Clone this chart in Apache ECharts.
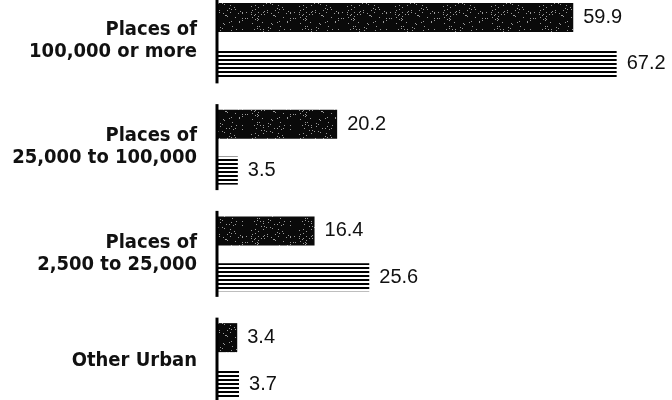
<!DOCTYPE html>
<html>
<head>
<meta charset="utf-8">
<script src="https://cdn.jsdelivr.net/npm/echarts@6/dist/echarts.min.js"></script>
<style>
  html, body { margin: 0; padding: 0; background: #fff; overflow: hidden; }
  /* the plot runs slightly past the top and bottom edges of the page */
  #chart { width: 672px; height: 427px; position: absolute; left: 0; top: -13px; }
</style>
</head>
<body>
<div id="chart"></div>
<script>
// Urban population by size of place: two series per class
const categories = [
  'Places of\n100,000 or more',
  'Places of\n25,000 to 100,000',
  'Places of\n2,500 to 25,000',
  'Other Urban'
];
const solidValues = [59.9, 20.2, 16.4, 3.4];
const stripedValues = [67.2, 3.5, 25.6, 3.7];

// Dark stippled fill: near-black with sparse light specks (deterministic)
function stippleTexture() {
  const c = document.createElement('canvas');
  c.width = 48; c.height = 32;
  const g = c.getContext('2d');
  g.fillStyle = '#0a0a0a';
  g.fillRect(0, 0, c.width, c.height);
  let s = 12345;
  const next = () => (s = (s * 16807) % 2147483647);
  g.fillStyle = '#9a9a9a';
  for (let i = 0; i < 80; i++) {
    const x = next() % c.width;
    const y = next() % c.height;
    g.fillRect(x, y, 1, 1);
  }
  return c;
}

// Horizontal ruled fill: black lines on white
function ruledTexture() {
  const c = document.createElement('canvas');
  c.width = 8; c.height = 4;
  const g = c.getContext('2d');
  g.fillStyle = '#ffffff';
  g.fillRect(0, 0, 8, 4);
  g.fillStyle = '#000000';
  g.fillRect(0, 0, 8, 2);
  return c;
}

const chart = echarts.init(document.getElementById('chart'), null, { renderer: 'canvas' });

const valueLabel = {
  show: true,
  position: 'right',
  distance: 10,
  fontFamily: "'Liberation Sans', Arial, sans-serif",
  fontSize: 20,
  color: '#111',
  formatter: p => p.value.toFixed(1)
};

chart.setOption({
  animation: false,
  backgroundColor: '#ffffff',
  grid: { left: 217, right: 3, top: 0, bottom: 0, containLabel: false },
  xAxis: {
    type: 'value',
    min: 0,
    max: 76,
    show: false
  },
  yAxis: {
    type: 'category',
    inverse: true,
    data: categories,
    axisLine: { show: false },
    axisTick: { show: false },
    splitLine: { show: false },
    axisLabel: {
      margin: 20,
      fontFamily: "'DejaVu Sans Condensed', 'DejaVu Sans', sans-serif",
      fontWeight: 'bold',
      fontSize: 20,
      lineHeight: 22,
      color: '#111'
    }
  },
  series: [
    {
      type: 'bar',
      data: solidValues,
      barWidth: 29,
      barGap: '62%',
      itemStyle: { color: { image: stippleTexture(), repeat: 'repeat' } },
      label: valueLabel
    },
    {
      type: 'bar',
      data: stripedValues,
      barWidth: 28,
      itemStyle: { color: { image: ruledTexture(), repeat: 'repeat' } },
      label: valueLabel
    },
    {
      // short baseline segment for each class
      type: 'custom',
      z: 5,
      silent: true,
      data: categories.map((c, i) => [0, i]),
      encode: { x: 0, y: 1 },
      renderItem: (params, api) => {
        const p = api.coord([api.value(0), api.value(1)]);
        return {
          type: 'line',
          shape: { x1: p[0], y1: p[1] - 43, x2: p[0], y2: p[1] + 43 },
          style: { stroke: '#000', lineWidth: 3 }
        };
      }
    }
  ]
});
</script>
</body>
</html>
